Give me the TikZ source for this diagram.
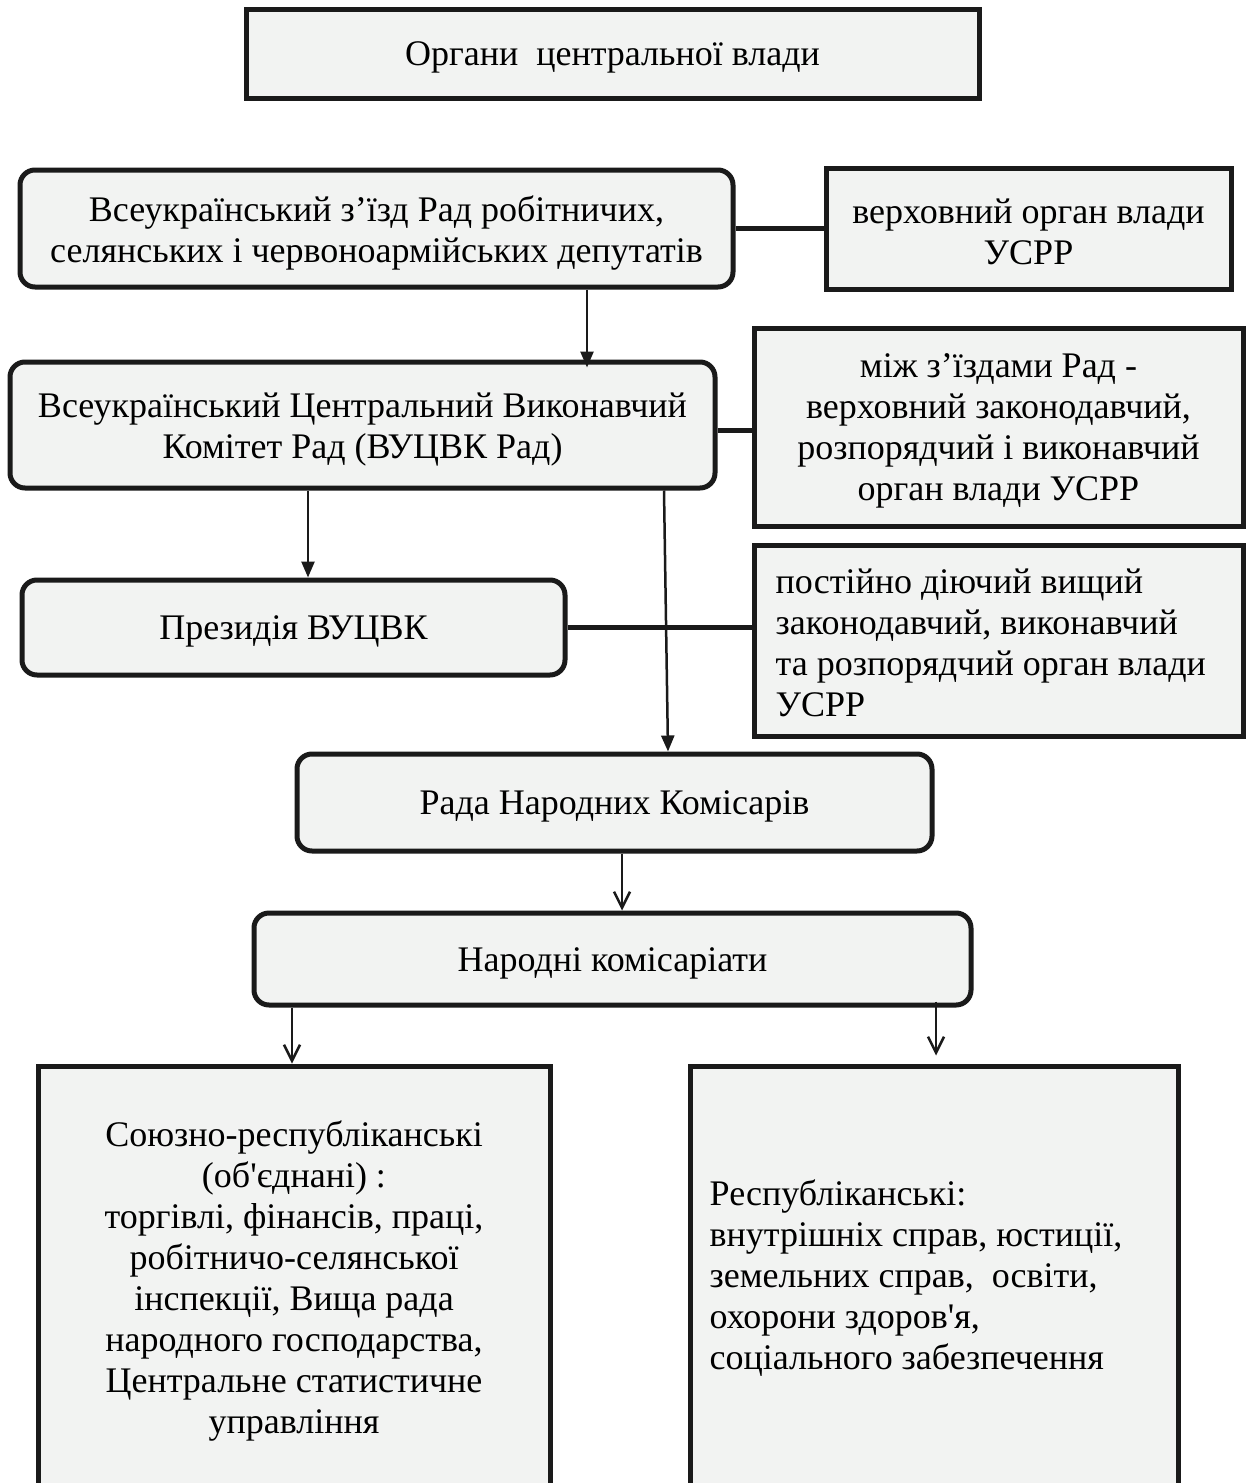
\documentclass[tikz,border=0pt]{standalone}
\usepackage{fontspec}
\setmainfont{Liberation Serif}
\usetikzlibrary{arrows.meta}
\definecolor{boxfill}{HTML}{F2F3F2}
\definecolor{ink}{HTML}{1A1A1A}
\tikzset{
  box/.style={draw=ink, line width=5pt, fill=boxfill, rectangle, inner sep=0pt},
  rbox/.style={box, rounded corners=15pt},
  txt/.style={inner sep=0pt, font=\fontsize{36}{41}\selectfont, align=center, text=black},
  ltxt/.style={txt, align=left, anchor=west},
  link/.style={draw=ink, line width=5pt},
  arr/.style={draw=ink, line width=2.5pt, -{Triangle[length=16pt,width=13pt]}},
  varr/.style={draw=ink, line width=2.5pt, -{Straight Barb[length=16pt,width=16pt,line width=2.5pt]}}
}
\begin{document}
\begin{tikzpicture}[x=1pt,y=-1pt]
\clip (0,0) rectangle (1247,1483);
\fill[white] (0,0) rectangle (1247,1483);

% boxes
\node[box, minimum width=733pt, minimum height=89pt] (top) at (612.5,53.5) {};
\node[rbox, minimum width=713pt, minimum height=117pt] (A) at (376.5,228.5) {};
\node[box, minimum width=405pt, minimum height=121pt] (Ar) at (1028.5,228.5) {};
\node[rbox, minimum width=705pt, minimum height=126pt] (B) at (362.5,425) {};
\node[box, minimum width=489pt, minimum height=198pt] (Br) at (998.5,427) {};
\node[rbox, minimum width=543pt, minimum height=95pt] (P) at (293.5,627.5) {};
\node[box, minimum width=489pt, minimum height=191pt] (Pr) at (998.5,640.5) {};
\node[rbox, minimum width=635pt, minimum height=97pt] (R) at (614.5,802.5) {};
\node[rbox, minimum width=717pt, minimum height=92pt] (N) at (612.5,959) {};
\node[box, minimum width=512pt, minimum height=430pt] (L) at (294,1281) {};
\node[box, minimum width=488pt, minimum height=430pt] (Rr) at (934,1281) {};

% texts
\node[txt] (topT) at ([yshift=-4pt]top.center) {Органи\ \ центральної влади};
\node[txt] (AT) at ([yshift=-4pt]A.center)
  {Всеукраїнський з’їзд Рад робітничих,\\селянських і червоноармійських депутатів};
\node[txt] (ArT) at ([yshift=-3pt]Ar.center) {верховний орган влади\\УСРР};
\node[txt] (BT) at ([yshift=-5pt]B.center)
  {Всеукраїнський Центральний Виконавчий\\Комітет Рад (ВУЦВК Рад)};
\node[txt] (BrT) at ([yshift=-4pt]Br.center)
  {між з’їздами Рад -\\верховний законодавчий,\\розпорядчий і виконавчий\\орган влади УСРР};
\node[txt] (PT) at ([yshift=-4pt]P.center) {Президія ВУЦВК};
\node[ltxt] (PrT) at ([xshift=24pt,yshift=-2pt]Pr.west)
  {постійно діючий вищий\\законодавчий, виконавчий\\та розпорядчий орган влади\\УСРР};
\node[txt] (RT) at ([yshift=-4pt]R.center) {Рада Народних Комісарів};
\node[txt] (NT) at ([yshift=-4pt]N.center) {Народні комісаріати};
\node[txt] (LT) at (L.center)
  {Союзно-республіканські\\(об\textquotesingle єднані) :\\торгівлі, фінансів, праці,\\робітничо-селянської\\інспекції, Вища рада\\народного господарства,\\Центральне статистичне\\управління};
\node[ltxt] (RrT) at ([xshift=22pt,yshift=3pt]Rr.west)
  {Республіканські:\\внутрішніх справ, юстиції,\\земельних справ,\ \ освіти,\\охорони здоров\textquotesingle я,\\соціального забезпечення};

% side links
\draw[link] (A.east) -- (A.east -| Ar.west);
\draw[link] ([yshift=-5pt]B.east) -- ([yshift=-5pt]B.east -| Br.west);
\draw[link] (P.east) -- (P.east -| Pr.west);

% arrows
\draw[arr] (A.south -| 587,0) -- ([yshift=-8pt]B.north -| 587,0);
\draw[arr] (B.south -| 308,0) -- (P.north -| 308,0);
\draw[arr] (B.south -| 664,0) -- (R.north -| 668,0);
\draw[varr] (R.south -| 622,0) -- (N.north -| 622,0);
\draw[varr] (N.south -| 292,0) -- (L.north -| 292,0);
\draw[varr] ([yshift=6pt]N.south -| 936,0) -- ([yshift=8pt]Rr.north -| 936,0);
\end{tikzpicture}
\end{document}
